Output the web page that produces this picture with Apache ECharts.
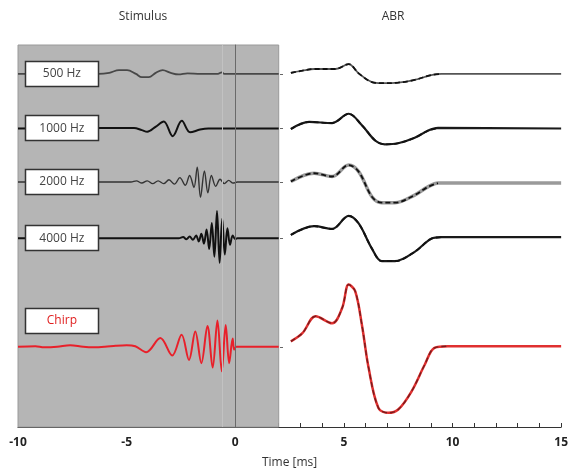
<!DOCTYPE html>
<html>
<head>
<meta charset="utf-8">
<script src="https://cdn.jsdelivr.net/npm/echarts@6/dist/echarts.min.js"></script>
<style>
  html, body { margin: 0; padding: 0; background: #fff; }
  #chart { width: 571px; height: 476px; }
</style>
</head>
<body>
<div id="chart"></div>
<script>
// time axis (ms)
const xMin = -10
const xMax = 15
const stimEnd = 2

// trace names and vertical offsets (baselines) of each row
const rowNames = ['500 Hz', '1000 Hz', '2000 Hz', '4000 Hz', 'Chirp']
const rowOffsets = [6.47, 5.47, 4.49, 3.46, 1.47]

// stimulus waveforms [time, amplitude]
const stim500 = [[-10, 0], [-6.3, 0], [-5.8, 0.02], [-5.35, 0.07], [-4.98, 0.07], [-4.57, 0], [-4.3, -0.06],
    [-3.98, -0.06], [-3.66, 0.02], [-3.34, 0.07], [-2.97, 0.02], [-2.61, -0.01], [-2.2, 0.01], [-1.6, 0],
    [-0.8, 0], [-0.62, 0.03], [-0.5, 0], [2, 0]]
const stim1000 = [[-10, 0], [-4.66, 0.01], [-4.3, -0.03], [-4.05, -0.06], [-3.67, 0.03], [-3.29, 0.13],
    [-2.88, -0.14], [-2.46, 0.14], [-2.08, -0.07], [-1.62, -0.02], [-1.24, 0], [2, 0]]
const stim2000 = [[-10, 0], [-4.8, 0], [-4.55, 0.02], [-4.3, -0.02], [-4.05, 0.02], [-3.8, -0.03], [-3.55, 0.02],
    [-3.3, -0.03], [-3.05, 0.04], [-2.8, -0.04], [-2.55, 0.08], [-2.3, -0.06], [-2.1, 0.12], [-1.9, -0.1],
    [-1.75, 0.27], [-1.6, -0.28], [-1.42, 0.2], [-1.26, -0.2], [-1.1, 0.12], [-0.9, -0.08], [-0.7, 0.05],
    [-0.5, -0.03], [-0.3, 0.03], [-0.1, -0.02], [0.1, 0], [2, 0]]
const stim4000 = [[-10, 0], [-2.6, 0], [-2.4, 0.02], [-2.25, -0.02], [-2.1, 0.03], [-1.95, -0.03], [-1.8, 0.05],
    [-1.68, -0.06], [-1.56, 0.08], [-1.44, -0.1], [-1.32, 0.16], [-1.2, -0.2], [-1.08, 0.28], [-0.96, -0.34],
    [-0.84, 0.5], [-0.72, -0.45], [-0.6, 0.36], [-0.48, -0.3], [-0.36, 0.18], [-0.24, -0.12], [-0.12, 0.05],
    [0, -0.02], [0.1, 0], [2, 0]]
const stimChirp = [[-10, 0], [-9.2, 0.01], [-8.8, -0.01], [-8.2, 0], [-7.6, 0.03], [-7.0, 0], [-6.5, -0.01],
    [-6.0, 0], [-5.5, 0.02], [-5.0, 0.03], [-4.6, 0.01], [-4.1, -0.1], [-3.45, 0.16], [-2.9, -0.16],
    [-2.47, 0.22], [-2.13, -0.24], [-1.84, 0.28], [-1.56, -0.3], [-1.28, 0.38], [-1.04, -0.38],
    [-0.82, 0.48], [-0.62, -0.45], [-0.44, 0.4], [-0.28, -0.3], [-0.12, 0.15], [-0.05, -0.05], [0.05, 0], [2, 0]]

// ABR responses [time, amplitude]
const abr500 = [[2.56, 0.02], [3.09, 0.06], [3.63, 0.09], [4.61, 0.09], [5.22, 0.18], [5.68, 0.01], [6.29, -0.15],
    [6.74, -0.17], [7.5, -0.16], [8.26, -0.11], [9.02, -0.02], [9.5, 0], [15, 0]]
const abr1000 = [[2.56, -0.01], [3.4, 0.12], [4.46, 0.1], [5.22, 0.27], [5.83, 0.06], [6.44, -0.22], [6.89, -0.29],
    [7.5, -0.27], [8.26, -0.17], [8.87, -0.04], [9.33, 0.01], [15, 0]]
const abr2000 = [[2.56, 0.01], [3.63, 0.16], [4.46, 0.1], [5.22, 0.31], [5.68, 0.19], [6.29, -0.27], [6.74, -0.38],
    [7.35, -0.38], [8.26, -0.24], [8.87, -0.09], [9.33, -0.02], [15, -0.02]]
const abr4000 = [[2.56, 0.06], [3.63, 0.22], [4.46, 0.17], [5.22, 0.41], [5.68, 0.27], [6.29, -0.19], [6.74, -0.42],
    [7.35, -0.42], [8.26, -0.25], [9.02, -0.01], [9.5, 0.02], [15, 0.02]]
const abrChirp = [[2.56, 0.1], [3.09, 0.25], [3.7, 0.56], [4.46, 0.43], [4.92, 0.71], [5.22, 1.14], [5.52, 1.02],
    [5.83, 0.4], [6.14, -0.39], [6.59, -1.12], [7.05, -1.21], [7.5, -1.15], [8.11, -0.82], [8.72, -0.33],
    [9.17, -0.02], [9.79, 0.01], [15, 0.01]]

// label box anchors: time and lift above each baseline
const labelTime = -7.98
const labelLift = [0, 0, 0, 0, 0.48]

const font = 'Open Sans'

const stims = [stim500, stim1000, stim2000, stim4000, stimChirp]
const abrs = [abr500, abr1000, abr2000, abr4000, abrChirp]
const stimStyle = [
    { color: '#484848', width: 1.8 },
    { color: '#111', width: 2 },
    { color: '#333', width: 1.4 },
    { color: '#111', width: 2 },
    { color: '#e8202a', width: 2 },
]
const abrTail = [
    { color: '#555', width: 1.8 },
    { color: '#1a1a1a', width: 2.2 },
    { color: '#9a9a9a', width: 3.5 },
    { color: '#1a1a1a', width: 2.2 },
    { color: '#e03030', width: 2.5 },
]

const shift = (arr, off) => arr.map(p => [p[0], p[1] + off])

const series = []

// gray stimulus window + t=0 line
series.push({
    type: 'line',
    data: [[xMin, 0]],
    showSymbol: false,
    lineStyle: { opacity: 0 },
    z: 1,
    silent: true,
    markArea: {
        silent: true,
        itemStyle: { color: '#b5b5b5', borderColor: '#9a9a9a', borderWidth: 1 },
        data: [[{ xAxis: xMin }, { xAxis: stimEnd }]],
    },
    markLine: {
        silent: true,
        symbol: 'none',
        label: { show: false },
        data: [
            { xAxis: -0.62, lineStyle: { color: '#c2c2c2', width: 1, type: 'solid' } },
            { xAxis: 0, lineStyle: { color: '#6a6a6a', width: 1, type: 'solid' } },
        ],
    },
})

rowNames.forEach((name, i) => {
    const off = rowOffsets[i]
    series.push({
        name: name + ' stimulus',
        type: 'line',
        data: shift(stims[i], off),
        showSymbol: false,
        smooth: 0.35,
        z: 3,
        lineStyle: stimStyle[i],
    })
    // ABR: solid base + dashed overlay on the waveform part
    series.push({
        name: name + ' ABR',
        type: 'line',
        data: shift(abrs[i], off),
        showSymbol: false,
        smooth: 0.35,
        z: 3,
        lineStyle: { color: abrTail[i].color, width: abrTail[i].width },
    })
    series.push({
        type: 'line',
        data: shift(abrs[i].filter(p => p[0] < 10), off),
        showSymbol: false,
        smooth: 0.35,
        z: 4,
        lineStyle: {
            color: i === 4 ? '#7a1c1c' : '#111',
            width: i === 4 ? 1.4 : 1.8,
            type: [5, 3],
        },
    })
})

// label boxes
series.push({
    type: 'custom',
    z: 10,
    silent: true,
    data: rowNames.map((name, i) => [labelTime, rowOffsets[i] + labelLift[i]]),
    renderItem: (params, api) => {
        const p = api.coord([api.value(0), api.value(1)])
        const chirp = params.dataIndex === 4
        return {
            type: 'group',
            children: [{
                type: 'rect',
                shape: { x: Math.round(p[0]) - 36.5, y: Math.round(p[1]) - 12.5, width: 73, height: 25 },
                style: { fill: '#fff', stroke: '#333', lineWidth: 1.5 },
            }, {
                type: 'text',
                x: p[0],
                y: p[1],
                style: {
                    text: rowNames[params.dataIndex],
                    fontFamily: font,
                    fontSize: 12,
                    fill: chirp ? '#e02020' : '#444',
                    align: 'center',
                    verticalAlign: 'middle',
                },
            }],
        }
    },
})

const chart = echarts.init(document.getElementById('chart'))
chart.setOption({
    animation: false,
    grid: { left: 18, right: 6, top: 45, bottom: 49 },
    xAxis: {
        type: 'value',
        min: xMin,
        max: xMax,
        interval: 5,
        name: 'Time [ms]',
        nameLocation: 'middle',
        nameGap: 30,
        nameTextStyle: { fontFamily: font, fontSize: 12, color: '#333' },
        axisLine: { lineStyle: { color: '#333', width: 1.2 } },
        axisTick: { inside: true, length: 4, lineStyle: { color: '#333' } },
        minorTick: { show: true, splitNumber: 5, length: 4, lineStyle: { color: '#333' } },
        axisLabel: { fontFamily: font, fontSize: 12, color: '#222', fontWeight: 'bold', margin: 10 },
        splitLine: { show: false },
    },
    yAxis: [{
        type: 'value',
        min: 0,
        max: 7,
        axisLine: { show: true, lineStyle: { color: '#333', width: 1.2 } },
        axisTick: { show: true, customValues: rowOffsets, length: 4, lineStyle: { color: '#333' } },
        axisLabel: { show: false },
        splitLine: { show: false },
    }, {
        type: 'value',
        position: 'left',
        offset: -262,
        min: 0,
        max: 7,
        axisLine: { show: false },
        axisTick: { show: true, inside: true, customValues: rowOffsets, length: 3, lineStyle: { color: '#666' } },
        axisLabel: { show: false },
        splitLine: { show: false },
    }],
    graphic: [
        { type: 'text', x: 143, y: 17, style: { text: 'Stimulus', fontFamily: font, fontSize: 12, fill: '#333', align: 'center', verticalAlign: 'middle' } },
        { type: 'text', x: 393, y: 17, style: { text: 'ABR', fontFamily: font, fontSize: 12, fill: '#333', align: 'center', verticalAlign: 'middle' } },
    ],
    series: series,
})
</script>
</body>
</html>
